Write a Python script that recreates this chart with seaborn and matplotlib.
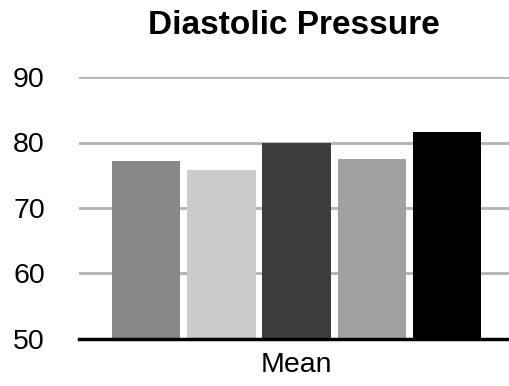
import matplotlib
matplotlib.use("Agg")
import matplotlib.pyplot as plt
import seaborn as sns
import pandas as pd

categories = ["Mean"]
series = ["Series 1", "Series 2", "Series 3", "Series 4", "Series 5"]
values = [77.2, 75.8, 80.0, 77.5, 81.6]
colors = ["#878887", "#cbcccb", "#3c3d3c", "#a0a1a0", "#000000"]
yticks = [50, 60, 70, 80, 90]
title = "Diastolic Pressure"

df = pd.DataFrame({"category": categories * len(series), "series": series, "value": values})

sns.set_theme(style="white")
plt.rcParams["font.family"] = ["Liberation Sans", "DejaVu Sans"]
plt.rcParams["text.color"] = "black"
plt.rcParams["xtick.color"] = "black"
plt.rcParams["ytick.color"] = "black"

fig = plt.figure(figsize=(5.09, 3.86), dpi=100)
ax = fig.add_axes([79 / 509, 1 - 339 / 386, 1 - 79 / 509, (339 - 77) / 386])
sns.barplot(data=df, x="category", y="value", hue="series", palette=colors,
            width=0.875, gap=0.09, saturation=1, legend=False, ax=ax, zorder=3,
            linewidth=0, edgecolor="none")
ax.set_ylim(50, 90)
ax.set_xlim(-0.506, 0.494)
ax.set_yticks(yticks)
ax.set_yticklabels([str(t) for t in yticks], fontsize=20.5)
ax.tick_params(axis="x", labelsize=20.5, length=0, pad=9, labelcolor="black")
ax.tick_params(axis="y", length=0, pad=47.5, labelcolor="black")
for lab in ax.get_yticklabels():
    lab.set_horizontalalignment("left")
ax.yaxis.grid(True, color="#b3b3b3", linewidth=2, zorder=0)
ax.set_axisbelow(True)
for s in ["top", "right", "left"]:
    ax.spines[s].set_visible(False)
ax.spines["bottom"].set_color("black")
ax.spines["bottom"].set_linewidth(2.5)
ax.spines["bottom"].set_zorder(4)
ax.set_xlabel("")
ax.set_ylabel("")
fig.text(294 / 509, 1 - 25 / 386, title, ha="center", va="center",
         fontsize=24, fontweight="bold", color="black")
fig.savefig("out.png", dpi=100, facecolor="white")
